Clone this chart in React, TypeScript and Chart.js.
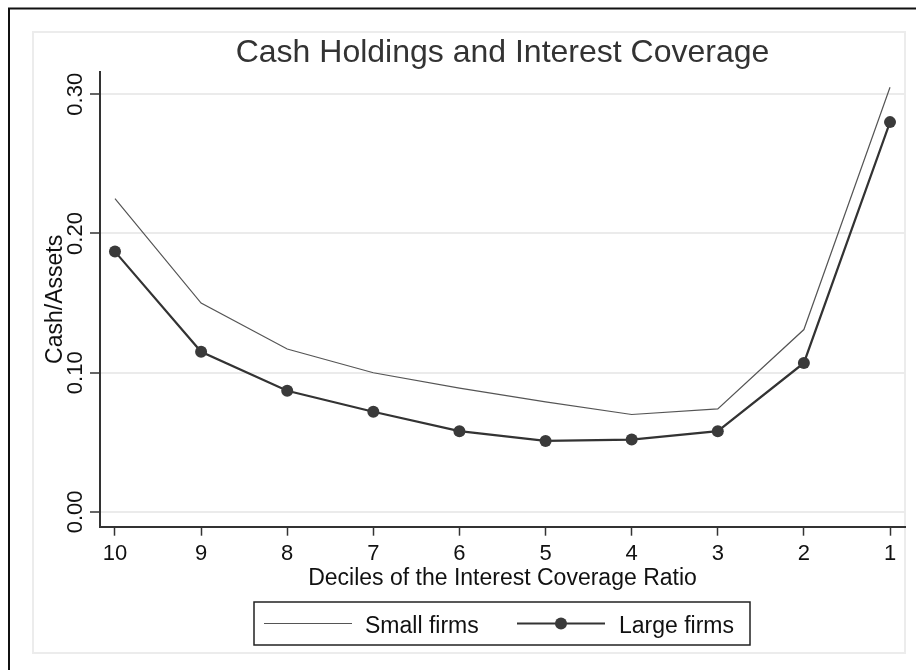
import React, { useEffect, useRef } from "react";
import { Chart, registerables } from "chart.js";

Chart.register(...registerables);

// ---- data ----
const deciles = [10, 9, 8, 7, 6, 5, 4, 3, 2, 1];
const smallFirms = [0.225, 0.150, 0.117, 0.100, 0.089, 0.079, 0.070, 0.074, 0.131, 0.305];
const largeFirms = [0.187, 0.115, 0.087, 0.072, 0.058, 0.051, 0.052, 0.058, 0.107, 0.280];
const xTicks = [10, 9, 8, 7, 6, 5, 4, 3, 2, 1];
const yTicks = [0, 0.1, 0.2, 0.3];
const yTickLabels = ["0.00", "0.10", "0.20", "0.30"];
const seriesLabels = ["Small firms", "Large firms"];
const titleText = "Cash Holdings and Interest Coverage";
const xTitle = "Deciles of the Interest Coverage Ratio";
const yTitle = "Cash/Assets";

const FONT = '"Liberation Sans", Arial, Helvetica, sans-serif';
const W = 916;
const H = 670;

const decor = {
  id: "decor",
  beforeDraw(chart: any) {
    const ctx = chart.ctx as CanvasRenderingContext2D;
    ctx.save();
    ctx.fillStyle = "#ffffff";
    ctx.fillRect(0, 0, W, H);
    // outer black border (extends beyond the picture)
    ctx.strokeStyle = "#111";
    ctx.lineWidth = 2;
    ctx.strokeRect(9, 8.5, W + 40, H + 40);
    // light graph-region frame
    ctx.strokeStyle = "#ececec";
    ctx.lineWidth = 2;
    ctx.strokeRect(33, 32, 872, 621);
    ctx.restore();
  },
  afterDraw(chart: any) {
    const ctx = chart.ctx as CanvasRenderingContext2D;
    const area = chart.chartArea;
    const yScale = chart.scales.y;
    const cx = (area.left + area.right) / 2;
    ctx.save();
    // title
    ctx.fillStyle = "#333";
    ctx.font = `32px ${FONT}`;
    ctx.textAlign = "center";
    ctx.textBaseline = "alphabetic";
    ctx.fillText(titleText, cx, 62);

    // y tick labels (rotated)
    ctx.fillStyle = "#111";
    ctx.font = `22px ${FONT}`;
    yTicks.forEach((v, i) => {
      const py = yScale.getPixelForValue(v);
      ctx.save();
      ctx.translate(81.5, py);
      ctx.rotate(-Math.PI / 2);
      ctx.textAlign = "center";
      ctx.textBaseline = "alphabetic";
      ctx.fillText(yTickLabels[i], 0, 0);
      ctx.restore();
    });

    // y title
    ctx.font = `23px ${FONT}`;
    ctx.save();
    ctx.translate(62, (area.top + area.bottom) / 2);
    ctx.rotate(-Math.PI / 2);
    ctx.textAlign = "center";
    ctx.textBaseline = "alphabetic";
    ctx.fillText(yTitle, 0, 0);
    ctx.restore();

    // x title
    ctx.textAlign = "center";
    ctx.textBaseline = "alphabetic";
    ctx.fillText(xTitle, cx, 585);

    // legend
    ctx.strokeStyle = "#222";
    ctx.lineWidth = 1.5;
    ctx.strokeRect(254, 602, 496, 43);
    const ly = 623.5;
    ctx.beginPath();
    ctx.strokeStyle = "#555";
    ctx.lineWidth = 1.2;
    ctx.moveTo(264, ly);
    ctx.lineTo(352, ly);
    ctx.stroke();
    ctx.beginPath();
    ctx.strokeStyle = "#333";
    ctx.lineWidth = 2.2;
    ctx.moveTo(517, ly);
    ctx.lineTo(605, ly);
    ctx.stroke();
    ctx.beginPath();
    ctx.fillStyle = "#3a3a3a";
    ctx.arc(561, ly, 6, 0, Math.PI * 2);
    ctx.fill();
    ctx.fillStyle = "#111";
    ctx.font = `23px ${FONT}`;
    ctx.textAlign = "left";
    ctx.textBaseline = "alphabetic";
    ctx.fillText(seriesLabels[0], 365, 632.5);
    ctx.fillText(seriesLabels[1], 619, 632.5);
    ctx.restore();
  },
};

export default function App() {
  const ref = useRef<HTMLCanvasElement | null>(null);
  useEffect(() => {
    if (!ref.current) return;
    const chart = new Chart(ref.current, {
      type: "line",
      data: {
        datasets: [
          {
            label: seriesLabels[0],
            data: deciles.map((d, i) => ({ x: d, y: smallFirms[i] })),
            borderColor: "#555",
            borderWidth: 1.2,
            pointRadius: 0,
            pointHoverRadius: 0,
            tension: 0,
            fill: false,
          },
          {
            label: seriesLabels[1],
            data: deciles.map((d, i) => ({ x: d, y: largeFirms[i] })),
            borderColor: "#333",
            borderWidth: 2.2,
            pointRadius: 6,
            pointHoverRadius: 6,
            pointBackgroundColor: "#3a3a3a",
            pointBorderWidth: 0,
            tension: 0,
            fill: false,
          },
        ],
      },
      options: {
        animation: false,
        responsive: false,
        devicePixelRatio: 1,
        events: [],
        layout: { padding: { left: 0, right: 11, top: 72, bottom: 0 } },
        plugins: {
          legend: { display: false },
          title: { display: false },
          tooltip: { enabled: false },
        },
        scales: {
          x: {
            type: "linear",
            reverse: true,
            min: 0.826,
            max: 10.174,
            afterBuildTicks: (s: any) => {
              s.ticks = xTicks.map((v) => ({ value: v }));
            },
            afterFit: (s: any) => {
              s.height = 143.3;
            },
            ticks: {
              color: "#111",
              font: { family: FONT, size: 22 },
              padding: 5,
              maxRotation: 0,
              minRotation: 0,
              autoSkip: false,
              callback: (v: any) => String(v),
            },
            grid: {
              display: true,
              drawOnChartArea: false,
              drawTicks: true,
              tickLength: 9,
              tickColor: "#333",
              tickWidth: 1.5,
            },
            border: { display: true, color: "#333", width: 2 },
          },
          y: {
            type: "linear",
            min: -0.0106,
            max: 0.316,
            afterBuildTicks: (s: any) => {
              s.ticks = yTicks.map((v) => ({ value: v }));
            },
            afterFit: (s: any) => {
              s.width = 100;
            },
            ticks: { display: false },
            grid: {
              display: true,
              color: "#ebebeb",
              lineWidth: 2,
              drawTicks: true,
              tickLength: 10,
              tickColor: "#333",
              tickWidth: 1.5,
            },
            border: { display: true, color: "#333", width: 2 },
          },
        },
      },
      plugins: [decor],
    });
    return () => chart.destroy();
  }, []);
  return (
    <div style={{ position: "fixed", left: 0, top: 0, width: W, height: H }}>
      <canvas ref={ref} width={W} height={H} style={{ display: "block", width: W, height: H }} />
    </div>
  );
}
